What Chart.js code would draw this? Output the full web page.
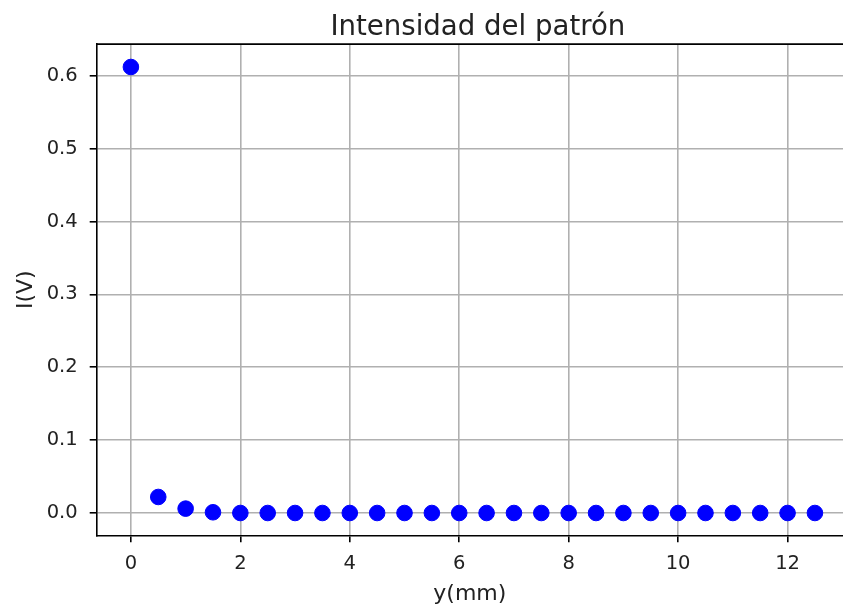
<!DOCTYPE html>
<html>
<head>
<meta charset="utf-8">
<script src="https://cdn.jsdelivr.net/npm/chart.js@4"></script>
<style>
  html, body { margin: 0; padding: 0; background: #fff; overflow: hidden; }
  canvas { display: block; }
</style>
</head>
<body>
<canvas id="chart" width="843" height="611" style="width:843px;height:611px"></canvas>
<script>
// Datos
const posicionY = [0, 0.5, 1, 1.5, 2, 2.5, 3, 3.5, 4, 4.5, 5, 5.5, 6, 6.5, 7, 7.5, 8, 8.5, 9, 9.5, 10, 10.5, 11, 11.5, 12, 12.5];
const intensidad = [0.612, 0.022, 0.006, 0.001, 0, 0, 0, 0, 0, 0, 0, 0, 0, 0, 0, 0, 0, 0, 0, 0, 0, 0, 0, 0, 0, 0];
const ticksX = [0, 2, 4, 6, 8, 10, 12];
const ticksY = [0, 0.1, 0.2, 0.3, 0.4, 0.5, 0.6];

Chart.defaults.font.family = "'DejaVu Sans', sans-serif";
Chart.defaults.color = "#222";

// El eje original sigue más allá del borde derecho de la imagen:
// el título se centra sobre ese eje completo y sólo se ve el marco superior
const marco = {
  id: "marco",
  afterLayout(chart) {
    if (chart.titleBlock) {
      chart.titleBlock.left += 8;
      chart.titleBlock.right += 8;
    }
  },
  afterDraw(chart) {
    const { ctx, chartArea: a } = chart;
    ctx.save();
    ctx.strokeStyle = "#000";
    ctx.lineWidth = 1.6;
    ctx.beginPath();
    ctx.moveTo(a.left, a.top);
    ctx.lineTo(a.right, a.top);
    ctx.stroke();
    ctx.restore();
  },
};

const ctx = document.getElementById("chart").getContext("2d");
new Chart(ctx, {
  type: "scatter",
  data: {
    datasets: [
      {
        label: "I(V)",
        data: posicionY.map((x, i) => ({ x, y: intensidad[i] })),
        backgroundColor: "#0000ff",
        borderColor: "#0000ff",
        borderWidth: 1,
        pointRadius: 7.8,
      },
    ],
  },
  options: {
    responsive: false,
    animation: false,
    devicePixelRatio: 1,
    layout: { autoPadding: false, padding: { left: 0, right: 0, top: 0, bottom: 0 } },
    plugins: {
      legend: { display: false },
      tooltip: { enabled: false },
      title: {
        display: true,
        text: "Intensidad del patrón",
        fullSize: false,
        font: { size: 27.6, weight: "normal" },
        color: "#222",
        padding: { top: 11, bottom: 0 },
      },
    },
    scales: {
      x: {
        type: "linear",
        min: -0.625,
        max: 13.013,
        afterBuildTicks: (s) => { s.ticks = ticksX.map((v) => ({ value: v })); },
        afterFit: (s) => { s.height = 75.7; },
        ticks: { font: { size: 19.5 }, padding: 9.5, autoSkip: false, maxRotation: 0, callback: (v) => String(v) },
        grid: { color: "#b0b0b0", lineWidth: 1.6, tickColor: "#000", tickWidth: 1.6, tickLength: 7 },
        border: { color: "#000", width: 1.6 },
        title: { display: true, text: "y(mm)", font: { size: 22 }, padding: { top: 0, bottom: 3.3 } },
      },
      y: {
        type: "linear",
        min: -0.0306,
        max: 0.6434,
        afterBuildTicks: (s) => { s.ticks = ticksY.map((v) => ({ value: v })); },
        afterFit: (s) => { s.width = 96.7; },
        ticks: { font: { size: 19.5 }, padding: 12, callback: (v) => v.toFixed(1) },
        grid: { color: "#b0b0b0", lineWidth: 1.6, tickColor: "#000", tickWidth: 1.6, tickLength: 7 },
        border: { color: "#000", width: 1.6 },
        title: { display: true, text: "I(V)", font: { size: 22 }, padding: { top: 13.3, bottom: 0 } },
      },
    },
  },
  plugins: [marco],
});
</script>
</body>
</html>
